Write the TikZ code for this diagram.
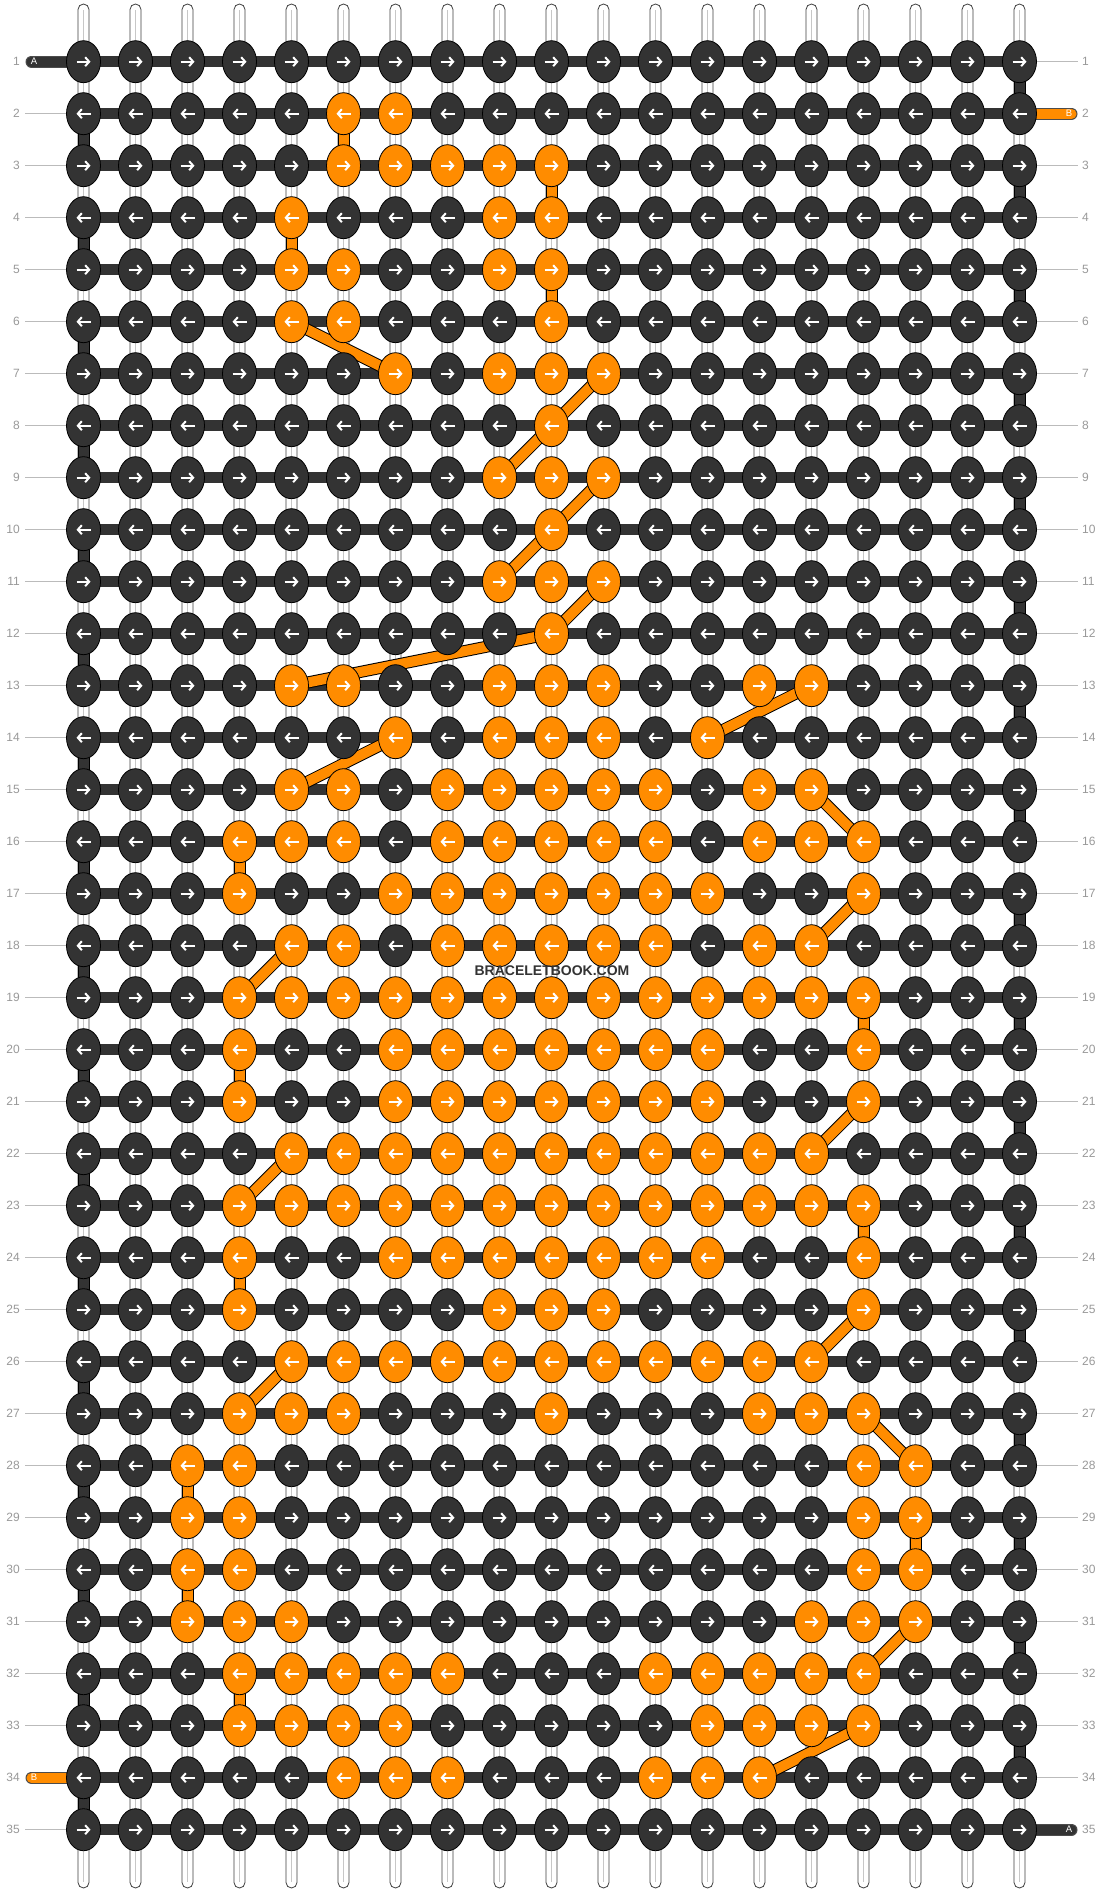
\documentclass[tikz,border=0pt]{standalone}
\usepackage{fontspec}
\setmainfont{Liberation Sans}
\usetikzlibrary{shapes.geometric,arrows.meta,calc}
\definecolor{dk}{HTML}{333333}
\definecolor{ora}{HTML}{FF8C00}
\definecolor{lbl}{HTML}{999999}
\definecolor{tickc}{HTML}{BBBBBB}
\pgfdeclarelayer{bg}
\pgfdeclarelayer{mid}
\pgfsetlayers{bg,mid,main}
\begin{document}
\begin{tikzpicture}[x=1pt,y=-1pt,
  knot/.style={ellipse, draw=black, line width=0.8pt, minimum width=34pt, minimum height=42pt, inner sep=0pt},
  thread/.style={draw=dk, line width=11pt},
  vseg/.style={draw=#1, line width=10pt, preaction={draw=black, line width=12pt}},
  diag/.style={draw=ora, line width=10pt, preaction={draw=black, line width=12pt}},
  endstub/.style={draw=#1, line width=10pt, line cap=round, preaction={draw=black!70, line width=12pt, line cap=round}},
  rowlbl/.style={text=lbl, font=\fontsize{12}{14}\selectfont, inner sep=0pt},
  rowtick/.style={draw=tickc, line width=1pt},
  knotarrow/.style={draw=white, line width=2pt, -{Straight Barb[length=4pt,width=9pt]}},
  stringbox/.style={draw=black!75, line width=0.8pt, fill=white, rounded corners=5.5pt},
  stringmid/.style={draw=black!22, line width=0.8pt},
  endlbl/.style={text=white, font=\fontsize{9.5}{11}\selectfont, inner sep=0pt}
]
\useasboundingbox (0,0) rectangle (1104,1892);

% knots
\foreach \r/\ol in {1/{0},2/{6,7},3/{6,7,8,9,10},4/{5,9,10},5/{5,6,9,10},6/{5,6,10},
  7/{7,9,10,11},8/{10},9/{9,10,11},10/{10},11/{9,10,11},12/{10},
  13/{5,6,9,10,11,14,15},14/{7,9,10,11,13},15/{5,6,8,9,10,11,12,14,15},
  16/{4,5,6,8,9,10,11,12,14,15,16},17/{4,7,8,9,10,11,12,13,16},
  18/{5,6,8,9,10,11,12,14,15},19/{4,5,6,7,8,9,10,11,12,13,14,15,16},
  20/{4,7,8,9,10,11,12,13,16},21/{4,7,8,9,10,11,12,13,16},
  22/{5,6,7,8,9,10,11,12,13,14,15},23/{4,5,6,7,8,9,10,11,12,13,14,15,16},
  24/{4,7,8,9,10,11,12,13,16},25/{4,9,10,11,16},
  26/{5,6,7,8,9,10,11,12,13,14,15},27/{4,5,6,10,14,15,16},
  28/{3,4,16,17},29/{3,4,16,17},30/{3,4,16,17},31/{3,4,5,15,16,17},
  32/{4,5,6,7,8,12,13,14,15,16},33/{4,5,6,7,13,14,15,16},34/{6,7,8,12,13,14},35/{0}}{
  \foreach \c in {1,...,19}{
    \gdef\kf{dk}
    \foreach \o in \ol {\ifnum\o=\c\relax \gdef\kf{ora}\fi}
    \node[knot, fill=\kf] (k-\r-\c) at ({83.5+52*(\c-1)}, {61.7+52*(\r-1)}) {};
  }
}

% arrows inside knots
\foreach \r in {1,...,35}{
  \foreach \c in {1,...,19}{
    \ifodd\r\relax
      \draw[knotarrow] ([xshift=-7pt]k-\r-\c.center) -- ([xshift=7pt]k-\r-\c.center);
    \else
      \draw[knotarrow] ([xshift=7pt]k-\r-\c.center) -- ([xshift=-7pt]k-\r-\c.center);
    \fi
  }
}

\begin{pgfonlayer}{bg}
  \fill[white] (0,0) rectangle (1104,1892);
  % vertical base strings
  \foreach \c in {1,...,19}{
    \coordinate (st-\c) at ({83.5+52*(\c-1)-5.5}, 4);
    \coordinate (sb-\c) at ({83.5+52*(\c-1)+5.5}, 1888);
    \draw[stringbox] (st-\c) rectangle (sb-\c);
    \draw[stringmid] ($(st-\c)+(5.5,6)$) -- ($(sb-\c)+(-5.5,-6)$);
  }
  % horizontal threads
  \foreach \r in {1,...,35}{
    \draw[thread] (k-\r-1.center) -- (k-\r-19.center);
  }
  % edge turns
  \foreach \r in {2,4,...,34}{
    \pgfmathtruncatemacro\rn{\r+1}
    \draw[vseg=dk] (k-\r-1.center) -- (k-\rn-1.center);
  }
  \foreach \r in {1,3,...,33}{
    \pgfmathtruncatemacro\rn{\r+1}
    \draw[vseg=dk] (k-\r-19.center) -- (k-\rn-19.center);
  }
  % orange vertical segments
  \foreach \c/\r in {6/2,10/3,5/4,10/5,4/16,4/20,16/19,4/24,16/23,3/28,3/30,17/29,4/32}{
    \pgfmathtruncatemacro\rn{\r+1}
    \draw[vseg=ora] (k-\r-\c.center) -- (k-\rn-\c.center);
  }
  % end strings
  \coordinate (aL) at (31.5, 61.7);
  \coordinate (bR) at (1071.5, 113.7);
  \coordinate (bL) at (31.5, 1777.7);
  \coordinate (aR) at (1071.5, 1829.7);
  \draw[endstub=dk] (aL) -- (k-1-1.center);
  \draw[endstub=ora] (k-2-19.center) -- (bR);
  \draw[endstub=ora] (bL) -- (k-34-1.center);
  \draw[endstub=dk] (k-35-19.center) -- (aR);
\end{pgfonlayer}

\begin{pgfonlayer}{mid}
  \foreach \ra/\ca/\rb/\cb in {6/5/7/7, 7/11/8/10, 8/10/9/9, 9/11/10/10, 10/10/11/9,
     11/11/12/10, 12/10/13/5, 13/15/14/13, 14/7/15/5, 15/15/16/16, 17/16/18/15,
     18/5/19/4, 21/16/22/15, 22/5/23/4, 25/16/26/15, 26/5/27/4, 27/16/28/17,
     31/17/32/16, 33/16/34/14}{
    \draw[diag] (k-\ra-\ca.center) -- (k-\rb-\cb.center);
  }
\end{pgfonlayer}

% end labels
\node[endlbl] (tA1) at (34, 61.7) {A};
\node[endlbl] (tB2) at (1069, 113.7) {B};
\node[endlbl] (tB34) at (34, 1777.7) {B};
\node[endlbl] (tA35) at (1069, 1829.7) {A};

% row labels and ticks
\foreach \r in {1,...,35}{
  \node[rowlbl, anchor=east] (ll-\r) at (20, {61.7+52*(\r-1)}) {\r};
  \node[rowlbl, anchor=west] (rl-\r) at (1082, {61.7+52*(\r-1)}) {\r};
}
\foreach \r in {2,...,33,35}{
  \draw[rowtick] ($(ll-\r.east)+(5,0)$) -- (k-\r-1.west);
}
\foreach \r in {1,3,4,...,34}{
  \draw[rowtick] (k-\r-19.east) -- ($(rl-\r.west)+(-4,0)$);
}

% watermark
\node[font=\bfseries\fontsize{14}{16}\selectfont, text=dk, inner sep=0pt] (wm) at (552, 971) {BRACELETBOOK.COM};
\end{tikzpicture}
\end{document}
